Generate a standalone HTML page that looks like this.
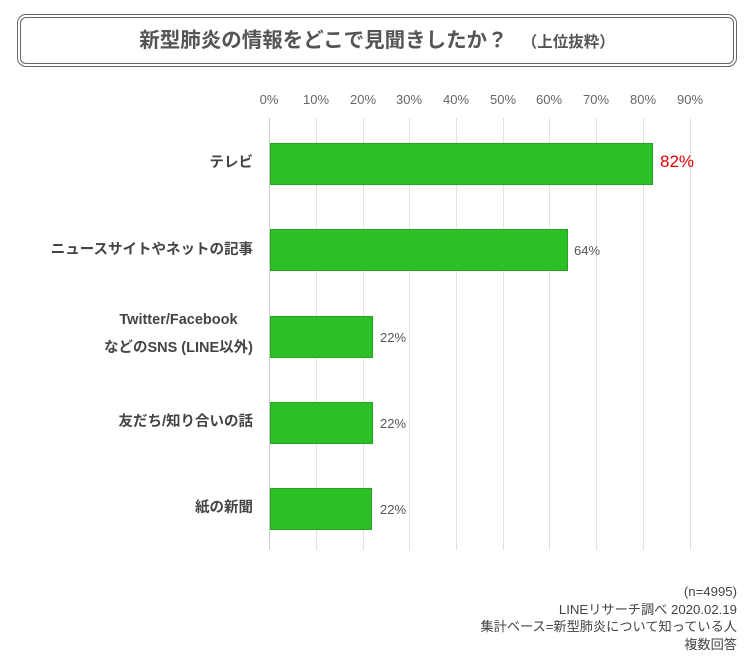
<!DOCTYPE html>
<html><head><meta charset="utf-8"><style>
body{margin:0;width:750px;height:666px;background:#fff;position:relative;font-family:"Liberation Sans","Noto Sans CJK JP",sans-serif;color:#555;overflow:hidden}
.title{position:absolute;left:17px;top:14px;width:712px;height:45px;border:4px double #666;border-radius:9px;text-align:center;line-height:45px;font-size:20.5px;font-weight:bold;color:#555}
.title small{font-size:15.5px;margin-left:14px}
.t{position:absolute;font-size:13px;color:#666;transform:translateX(-50%);top:92px}
.g{position:absolute;top:118px;height:432px;width:1px;background:#e2e2e2}
.bar{position:absolute;left:270px;height:42px;background:#2cbf26;border:1px solid #25a520;box-sizing:border-box}
.lab{position:absolute;font-size:14.5px;font-weight:bold;color:#444;text-align:center;line-height:28px}
.v{position:absolute;font-size:13px;color:#555}
.note{position:absolute;right:13px;text-align:right;font-size:13.2px;color:#444;line-height:17.5px;top:583px}
</style></head><body>
<div class="title">新型肺炎の情報をどこで見聞きしたか？<small>（上位抜粋）</small></div>
<div class="t" style="left:269px">0%</div><div class="t" style="left:316px">10%</div><div class="t" style="left:363px">20%</div><div class="t" style="left:409px">30%</div><div class="t" style="left:456px">40%</div><div class="t" style="left:503px">50%</div><div class="t" style="left:549px">60%</div><div class="t" style="left:596px">70%</div><div class="t" style="left:643px">80%</div><div class="t" style="left:690px">90%</div>
<div class="g" style="left:269px;background:#ccc"></div><div class="g" style="left:316px"></div><div class="g" style="left:363px"></div><div class="g" style="left:409px"></div><div class="g" style="left:456px"></div><div class="g" style="left:503px"></div><div class="g" style="left:549px"></div><div class="g" style="left:596px"></div><div class="g" style="left:643px"></div><div class="g" style="left:690px"></div>
<div class="bar" style="top:143px;width:383px"></div>
<div class="bar" style="top:229px;width:298px"></div>
<div class="bar" style="top:316px;width:103px"></div>
<div class="bar" style="top:402px;width:103px"></div>
<div class="bar" style="top:488px;width:102px"></div>
<div class="v" style="left:660px;top:152px;font-size:17px;color:#e00000">82%</div>
<div class="v" style="left:574px;top:243px">64%</div>
<div class="v" style="left:380px;top:330px">22%</div>
<div class="v" style="left:380px;top:416px">22%</div>
<div class="v" style="left:380px;top:502px">22%</div>
<div class="lab" style="top:149px;right:497px">テレビ</div>
<div class="lab" style="top:236px;right:497px">ニュースサイトやネットの記事</div>
<div class="lab" style="top:306px;right:497px">Twitter/Facebook<br>などのSNS (LINE以外)</div>
<div class="lab" style="top:408px;right:497px">友だち/知り合いの話</div>
<div class="lab" style="top:494px;right:497px">紙の新聞</div>
<div class="note">(n=4995)<br>LINEリサーチ調べ 2020.02.19<br>集計ベース=新型肺炎について知っている人<br>複数回答</div>
</body></html>
